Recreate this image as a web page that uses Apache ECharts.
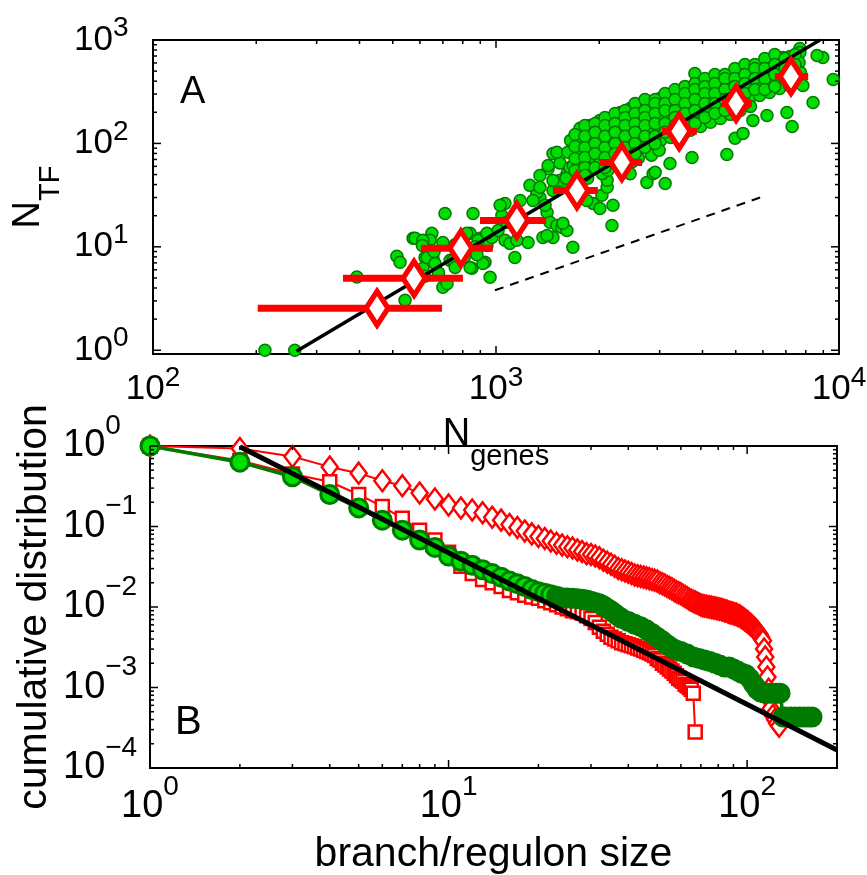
<!DOCTYPE html>
<html>
<head>
<meta charset="utf-8">
<script src="https://cdn.jsdelivr.net/npm/echarts@6.0.0/dist/echarts.min.js"></script>
<style>
html, body { margin: 0; padding: 0; background: #fff; }
#chart { width: 867px; height: 875px; }
</style>
</head>
<body>
<div id="chart"></div>
<script>
// panel A : N_TF vs N_genes (scatter, binned averages, fits)
var greenA = [
  [212,1.0],[259,1.0],[393,5.1],[514,8.1],[525,7.1],[543,3.04],[573,12.1],[650,13.5],[642,11.6],
  [640,9.25],[621,7.9],[655,7.75],[710,21],[700,4.06],[720,4.4],[613,6.2],[581,12.1],[630,7.9],
  [664,6.9],[857,21],[840,13.5],[898,12.1],[941,10.3],[851,6.2],[929,7.1],[961,5.07],[700,11],
  [735,7.4],[822,9.25],[973,12.3],[1014,14.4],[1062,11.6],[1097,10.8],[1135,7.9],[1240,11],
  [1150,11.6],[1062,26.3],[1040,20.1],[1076,17.3],[1318,32.9],[1343,30],[1409,21.5],[1437,17.3],
  [1505,16.1],[1556,15.4],[1610,14.4],[1675,9.9],[1370,12.3],[1466,12.3],[1419,57],[1505,41],
  [1556,41],[1466,80],[1537,64.5],[2193,25.2],[2178,16.1],[1919,26.3],[2009,23.5],[1840,28.1],
  [2036,31.5],[2109,37.6],[1409,12.9],[1567,16.9],[2109,44],[2460,51],[2754,42],[2870,51],
  [3113,41],[2911,52.5],[3727,73],[4710,78],[4977,112],[5250,125],[5610,167],[6166,186],
  [7050,199],[7300,146],[8400,249],[7850,363],[9620,415],[8970,678],[8630,708],[7690,828],
  [6870,678],[6430,606],[6000,567],[3800,475],[3155,260],[2300,160],[1795,134],[1919,128],
  [1879,107],[1675,91],[1505,82],[1419,61],[1537,44],[1610,51],[1318,33.6],[1028,25.2],
  [3215,64],[1256,39.3],[1343,49],[1176,28.1],[1466,35],[1390,25.2],[612,11.6],[750,7.4],
  [822,13.5],[840,6.3],[916,6.9],[887,11.6],[941,13.5],[1282,28.1],[1343,37.6],[1466,43.9],
  [1643,58.6],[1725,68.5],[1800,85.5],[610,10.3],[660,9.0],[760,10.5],[790,11.5],[810,8.0],
  [870,10],[880,8.4],[760,6.3],[680,5.6],[620,5.2],
  [1650,107],[1620,82],[1680,61],[1600,46],
  [1758,140],[1740,112],[1775,86],[1750,69],[1790,53],
  [1879,149],[1860,119],[1900,96],[1870,72],[1890,57],[1850,46],
  [2009,167],[2030,134],[1990,102],[2020,82],[2000,64],[2040,51],
  [2148,174],[2130,140],[2170,112],[2140,86],[2160,69],[2120,55],
  [2300,199],[2280,153],[2320,122],[2290,94],[2310,75],[2330,60],
  [2460,218],[2440,167],[2480,134],[2450,102],[2470,82],[2490,66],
  [2630,233],[2610,186],[2650,140],[2620,112],[2640,90],[2600,72],
  [2812,249],[2790,199],[2830,160],[2800,125],[2820,96],[2840,77],
  [3006,272],[2980,218],[3030,174],[3000,134],[3020,107],[2990,86],
  [3214,291],[3190,233],[3240,186],[3200,143],[3230,114],
  [3436,311],[3410,249],[3460,199],[3420,160],[3450,122],
  [3680,340],[3650,272],[3700,218],[3660,174],[3690,134],
  [3935,363],[3910,291],[3960,233],[3920,186],[3950,146],
  [4207,388],[4180,311],[4230,249],[4190,199],[4220,160],
  [4498,406],[4470,340],[4520,272],[4480,218],[4510,174],
  [4808,444],[4780,363],[4830,291],[4790,233],[4820,191],
  [5140,475],[5110,388],[5170,311],[5120,249],[5150,208],
  [5505,508],[5470,415],[5530,340],[5480,272],[5520,228],
  [5890,555],[5860,454],[5920,363],[5870,291],
  [6295,593],[6260,485],[6330,388],[6270,311],
  [6730,634],[6700,508],[6760,406],[6710,340],
  [7195,693],[7160,555],[7230,444],[7170,363],
  [7690,757],[7650,606],[7720,485],
  [1700,122],[1700,93.5],[1700,71.6],[1700,54.8],
  [1816,149],[1816,117],[1816,91.5],[1816,73],[1816,58.6],[1816,49.1],
  [1944,156],[1944,128],[1944,100],[1944,80],[1944,58.6],
  [2078,178],[2078,149],[2078,117],[2078,91.5],[2078,73],[2078,58.6],
  [2223,195],[2223,156],[2223,128],[2223,100],[2223,80],[2223,64.1],
  [2379,208],[2379,178],[2379,149],[2379,117],[2379,91.5],[2379,73],
  [2543,243],[2543,195],[2543,156],[2543,128],[2543,100],[2543,80],
  [2718,266],[2718,208],[2718,178],[2718,149],[2718,117],[2718,91.5],
  [2909,266],[2909,243],[2909,195],[2909,156],[2909,117],[2909,100],
  [3110,304],[3110,243],[3110,208],[3110,156],[3110,128],
  [3326,332],[3326,266],[3326,208],[3326,178],[3326,149],
  [3556,356],[3556,304],[3556,243],[3556,195],[3556,149],
  [3802,380],[3802,332],[3802,266],[3802,208],[3802,156],
  [4065,425],[4065,356],[4065,304],[4065,243],[4065,178],
  [4346,464],[4346,380],[4346,304],[4346,243],[4346,195],
  [4651,464],[4651,425],[4651,332],[4651,266],[4651,208],
  [4972,531],[4972,425],[4972,356],[4972,266],[4972,208],
  [5316,580],[5316,464],[5316,380],[5316,304],[5316,243],
  [5684,580],[5684,531],[5684,425],[5684,332],
  [6077,662],[6077,531],[6077,425],[6077,332],
  [6498,724],[6498,580],[6498,464],[6498,356],
  [6966,662],[6966,531],[6966,425],
  [7447,724],[7447,580],[7447,464]
];
var diamondAX = [450, 577, 790, 1150, 1722, 2328, 3420, 5012, 7244];
var diamondAY = [2.55, 4.96, 9.7, 18, 35, 65.5, 131, 243, 444];
var errLowA = [202, 358, 604, 898, 1466, 2009, 3050, 4560, 6500];
var errHighA = [696, 801, 979, 1400, 1982, 2667, 3850, 5570, 8130];
var fitA = [[262, 0.98], [8800, 1000]];
var dashA = [[993, 3.8], [5890, 30]];

// panel B : cumulative distributions
var diaBX = [1,2,3,4,5,6,7,8,9,10,11,12,13,14,15,16,17,18,19,20,21,22,23,24,25,26,27,28,29,30,
  31,32,33,34,35,36,37,38,39,40,41,42,43,44,45,46,47,48,49,50,
  51,52,53,54,55,56,57,58,59,60,61,62,63,64,65,66,67,68,69,70,
  71,72,73,74,75,76,77,78,79,80,81,82,83,84,85,86,87,88,89,90,
  91,92,93,94,95,96,97,98,99,100,101,102,103,104,105,106,107,108,109,110,
  111,112,113,114,115,116,117,118,119,120,122,124,126,128];
var diaBY = [1,0.93,0.74,0.55,0.46,0.37,0.32,0.26,0.22,0.185,
  0.17,0.16,0.148,0.13,0.12,0.106,0.097,0.088,0.081,0.075,
  0.071,0.066,0.062,0.059,0.056,0.054,0.051,0.049,0.046,0.045,
  0.043,0.041,0.038,0.036,0.034,0.032,0.030,0.029,0.028,0.027,
  0.026,0.025,0.0245,0.024,0.0235,0.023,0.0225,0.022,0.0215,0.021,
  0.020,0.0195,0.0188,0.018,0.0174,0.0168,0.0161,0.0155,0.015,0.0146,
  0.014,0.0135,0.013,0.0125,0.0121,0.0118,0.0115,0.0112,0.0109,0.0106,
  0.0104,0.0103,0.0102,0.0101,0.01,0.0099,0.0098,0.0097,0.0096,0.0095,
  0.0094,0.0093,0.0092,0.009,0.0089,0.0088,0.0086,0.0085,0.0084,0.0083,
  0.0082,0.0081,0.0079,0.0078,0.0076,0.0074,0.0072,0.007,0.0068,0.0066,
  0.0064,0.0062,0.006,0.0058,0.0056,0.0054,0.0052,0.005,0.0048,0.0046,
  0.0043,0.004,0.0038,0.003,0.0024,0.0018,0.00135,0.00095,0.0007,0.00055,
  0.00045,0.0004,0.00036,0.00033];
var sqBX = [1,2,3,4,5,6,7,8,9,10,11,12,13,14,15,16,17,18,19,20,21,22,23,24,25,26,27,28,29,30,
  31,32,33,34,35,36,37,38,39,40,41,42,43,44,45,46,47,48,49,50,
  51,52,53,54,55,56,57,58,59,60,61,62,63,64,65,66,67];
var sqBY = [1,0.66,0.45,0.36,0.25,0.177,0.127,0.09,0.068,0.048,
  0.032,0.026,0.022,0.02,0.018,0.016,0.015,0.014,0.0133,0.0128,
  0.012,0.0113,0.0107,0.01,0.0095,0.009,0.0087,0.0084,0.0078,0.0072,
  0.0064,0.0056,0.005,0.0046,0.0042,0.004,0.0038,0.0036,0.0035,0.0034,
  0.0033,0.0032,0.0031,0.003,0.0029,0.0028,0.0027,0.0026,0.0025,0.0023,
  0.0022,0.002,0.0019,0.0018,0.0017,0.0016,0.0015,0.0014,0.0013,0.00125,
  0.0012,0.0011,0.00105,0.001,0.00095,0.00085,0.00028];
var grBX = [1,2,3,4,5,6,7,8,9,10,11,12,13,14,15,16,17,18,19,20,21,22,23,24,25,26,27,28,29,30,
  31,32,33,34,35,36,37,38,40,42,44,46,48,50,52,54,56,58,60,
  63,66,69,72,75,78,81,84,87,90,93,96,99,102,105,108,111,114,117,120,123,126,129,
  132,135,140,145,150,155,160,165];
var grBY = [1,0.63,0.415,0.25,0.17,0.12,0.09,0.068,0.055,0.043,
  0.037,0.033,0.029,0.026,0.0235,0.021,0.0195,0.018,0.0165,0.0155,
  0.0148,0.0142,0.0136,0.013,0.0129,0.0128,0.0127,0.0125,0.0122,0.0118,
  0.0114,0.011,0.0104,0.0096,0.009,0.0083,0.0077,0.0072,
  0.0066,0.0061,0.0057,0.0052,0.0047,0.0042,0.0038,0.0034,0.0031,0.0029,0.0028,
  0.0026,0.0024,0.0023,0.0022,0.0021,0.002,0.0019,0.0018,0.0018,0.0017,0.0016,0.0015,0.00145,
  0.0013,0.0011,0.00095,0.00088,0.00086,0.00085,0.00085,0.00085,0.00085,0.00085,
  0.00043,0.00043,0.00043,0.00043,0.00043,0.00043,0.00043,0.00043];
var fitB = [[2, 0.98], [200, 1.67e-4]];

// axis ranges and ticks
var rangeAX = [100, 10000], rangeAY = [0.92, 1000];
var rangeBX = [1, 200], rangeBY = [1e-4, 1];
var mantissa = [2, 3, 4, 5, 6, 7, 8, 9];

var FONT = '"Liberation Sans", Arial, Helvetica, sans-serif';
var GREEN = '#00dd00', DARKGREEN = '#007a00';

function zip(xs, ys) {
  return xs.map(function (x, i) { return [x, ys[i]]; });
}

function minorTicks(decades, max) {
  var out = [];
  decades.forEach(function (d) {
    mantissa.forEach(function (m) {
      if (d * m <= max * 1.0001) out.push(d * m);
    });
  });
  return out;
}

function powLabel(v) {
  var e = Math.log10(v);
  var r = Math.round(e);
  if (Math.abs(e - r) > 1e-6) return '';
  return '{b|10}{s|' + (r < 0 ? '\u2212' + (-r) : r) + '}';
}

function labelRich(base, sup, lift) {
  return {
    b: { fontSize: base, lineHeight: base, fontFamily: FONT, color: '#000', verticalAlign: 'middle' },
    s: { fontSize: sup, lineHeight: sup, fontFamily: FONT, color: '#000', verticalAlign: 'middle',
         padding: [0, 0, lift * 2, 0] }
  };
}

// MATLAB like ticks on all four sides
function tickSeries(idx, xr, yr, xMaj, xMin, yMaj, yMin) {
  var data = [];
  xMaj.forEach(function (v) { data.push([v, yr[0], 0, 8]); });
  xMin.forEach(function (v) { data.push([v, yr[0], 0, 4]); });
  yMaj.forEach(function (v) { data.push([xr[0], v, 1, 8]); });
  yMin.forEach(function (v) { data.push([xr[0], v, 1, 4]); });
  return {
    type: 'custom',
    xAxisIndex: idx,
    yAxisIndex: idx,
    silent: true,
    z: 10,
    clip: false,
    data: data,
    renderItem: function (params, api) {
      var kind = api.value(2), len = api.value(3);
      var a, b, lines;
      if (kind === 0) {
        var vx = api.value(0);
        a = api.coord([vx, yr[0]]);
        b = api.coord([vx, yr[1]]);
        lines = [[a[0], a[1], a[0], a[1] - len], [b[0], b[1], b[0], b[1] + len]];
      } else {
        var vy = api.value(1);
        a = api.coord([xr[0], vy]);
        b = api.coord([xr[1], vy]);
        lines = [[a[0], a[1], a[0] + len, a[1]], [b[0], b[1], b[0] - len, b[1]]];
      }
      return {
        type: 'group',
        children: lines.map(function (l) {
          return { type: 'line', shape: { x1: l[0], y1: l[1], x2: l[2], y2: l[3] },
                   style: { stroke: '#000', lineWidth: 1.5 } };
        })
      };
    }
  };
}

var myChart = echarts.init(document.getElementById('chart'));

myChart.setOption({
  animation: false,
  backgroundColor: '#fff',
  textStyle: { fontFamily: FONT },
  grid: [
    { left: 153, top: 40, width: 686, height: 314, show: true, borderColor: '#000', borderWidth: 2,
      containLabel: false, outerBoundsMode: 'none' },
    { left: 150, top: 446, width: 687, height: 322, show: true, borderColor: '#000', borderWidth: 2,
      containLabel: false, outerBoundsMode: 'none' }
  ],
  xAxis: [
    {
      type: 'log', gridIndex: 0, logBase: 10, min: rangeAX[0], max: rangeAX[1],
      axisLine: { show: false }, axisTick: { show: false }, splitLine: { show: false },
      axisLabel: { margin: 18, formatter: powLabel, rich: labelRich(35, 28, 11.5) },
      name: '{n|N}{s|genes}', nameLocation: 'middle', nameGap: 79, nameMoveOverlap: false,
      nameTextStyle: {
        rich: {
          n: { fontSize: 38, lineHeight: 38, fontFamily: FONT, color: '#000', verticalAlign: 'bottom', padding: [0, 0, 17, 0] },
          s: { fontSize: 29, lineHeight: 29, fontFamily: FONT, color: '#000', verticalAlign: 'bottom' }
        }
      }
    },
    {
      type: 'log', gridIndex: 1, logBase: 10, min: rangeBX[0], max: rangeBX[1],
      axisLine: { show: false }, axisTick: { show: false }, splitLine: { show: false },
      axisLabel: { margin: 20, formatter: powLabel, rich: labelRich(38, 28, 20) },
      name: 'branch/regulon size', nameLocation: 'middle', nameGap: 66, nameMoveOverlap: false,
      nameTextStyle: { fontSize: 41, fontFamily: FONT, color: '#000' }
    }
  ],
  yAxis: [
    {
      type: 'log', gridIndex: 0, logBase: 10, min: rangeAY[0], max: rangeAY[1],
      axisLine: { show: false }, axisTick: { show: false }, splitLine: { show: false },
      axisLabel: { margin: 79, align: 'left', formatter: powLabel, rich: labelRich(35, 28, 11.5) },
      name: '{n|N}{s|TF}', nameLocation: 'middle', nameRotate: 90, nameGap: 88, nameMoveOverlap: false,
      nameTextStyle: {
        rich: {
          n: { fontSize: 38, lineHeight: 38, fontFamily: FONT, color: '#000', verticalAlign: 'bottom', padding: [0, 0, 17, 0] },
          s: { fontSize: 29, lineHeight: 29, fontFamily: FONT, color: '#000', verticalAlign: 'bottom' }
        }
      }
    },
    {
      type: 'log', gridIndex: 1, logBase: 10, min: rangeBY[0], max: rangeBY[1],
      axisLine: { show: false }, axisTick: { show: false }, splitLine: { show: false },
      axisLabel: { margin: 87, align: 'left', formatter: powLabel, rich: labelRich(38, 28, 20) },
      name: 'cumulative distribution', nameLocation: 'middle', nameRotate: 90, nameGap: 95, nameMoveOverlap: false,
      nameTextStyle: { fontSize: 41, fontFamily: FONT, color: '#000' }
    }
  ],
  graphic: [
    { type: 'text', left: 180, top: 74, style: { text: 'A', font: '38px ' + FONT, fill: '#000' } },
    { type: 'text', left: 175, top: 703, style: { text: 'B', font: '40px ' + FONT, fill: '#000' } }
  ],
  series: [
    {
      type: 'scatter', xAxisIndex: 0, yAxisIndex: 0, silent: true, z: 2,
      symbol: 'circle', symbolSize: 12, data: greenA,
      itemStyle: { color: GREEN, borderColor: DARKGREEN, borderWidth: 1.5, opacity: 1 }
    },
    {
      type: 'line', xAxisIndex: 0, yAxisIndex: 0, silent: true, z: 3,
      data: fitA, symbol: 'none', lineStyle: { color: '#000', width: 3.5 }
    },
    {
      type: 'line', xAxisIndex: 0, yAxisIndex: 0, silent: true, z: 3,
      data: dashA, symbol: 'none', lineStyle: { color: '#000', width: 2, type: [9, 7] }
    },
    {
      type: 'custom', xAxisIndex: 0, yAxisIndex: 0, silent: true, z: 4,
      data: errLowA.map(function (lo, i) { return [lo, diamondAY[i], errHighA[i]]; }),
      renderItem: function (params, api) {
        var a = api.coord([api.value(0), api.value(1)]);
        var b = api.coord([api.value(2), api.value(1)]);
        return { type: 'line', shape: { x1: a[0], y1: a[1], x2: b[0], y2: b[1] },
                 style: { stroke: '#ff0000', lineWidth: 7 } };
      }
    },
    {
      type: 'scatter', xAxisIndex: 0, yAxisIndex: 0, silent: true, z: 5,
      symbol: 'diamond', symbolSize: [22, 34], data: zip(diamondAX, diamondAY),
      itemStyle: { color: '#fff', borderColor: '#ff0000', borderWidth: 5.5, opacity: 1 }
    },
    {
      type: 'line', xAxisIndex: 1, yAxisIndex: 1, silent: true, z: 2,
      data: zip(diaBX, diaBY), symbol: 'diamond', symbolSize: [16, 21], showAllSymbol: true,
      lineStyle: { color: '#ff0000', width: 2 },
      itemStyle: { color: '#fff', borderColor: '#ff0000', borderWidth: 2.5 }
    },
    {
      type: 'line', xAxisIndex: 1, yAxisIndex: 1, silent: true, z: 3,
      data: zip(sqBX, sqBY), symbol: 'rect', symbolSize: 13, showAllSymbol: true,
      lineStyle: { color: '#ff0000', width: 2 },
      itemStyle: { color: '#fff', borderColor: '#ff0000', borderWidth: 2.5 }
    },
    {
      type: 'line', xAxisIndex: 1, yAxisIndex: 1, silent: true, z: 4,
      data: zip(grBX, grBY), symbol: 'circle', symbolSize: 18, showAllSymbol: true,
      lineStyle: { color: DARKGREEN, width: 3.5 },
      itemStyle: {
        color: function (p) { return p.value[0] <= 22 ? GREEN : DARKGREEN; },
        borderColor: DARKGREEN, borderWidth: 3
      }
    },
    {
      type: 'line', xAxisIndex: 1, yAxisIndex: 1, silent: true, z: 6,
      data: fitB, symbol: 'none', lineStyle: { color: '#000', width: 5 }
    },
    tickSeries(0, rangeAX, rangeAY, [100, 1000, 10000], minorTicks([100, 1000], 10000),
      [1, 10, 100, 1000], minorTicks([1, 10, 100], 1000)),
    tickSeries(1, rangeBX, rangeBY, [1, 10, 100], minorTicks([1, 10, 100], 200),
      [1e-4, 1e-3, 1e-2, 1e-1, 1], minorTicks([1e-4, 1e-3, 1e-2, 1e-1], 1))
  ]
});
</script>
</body>
</html>
